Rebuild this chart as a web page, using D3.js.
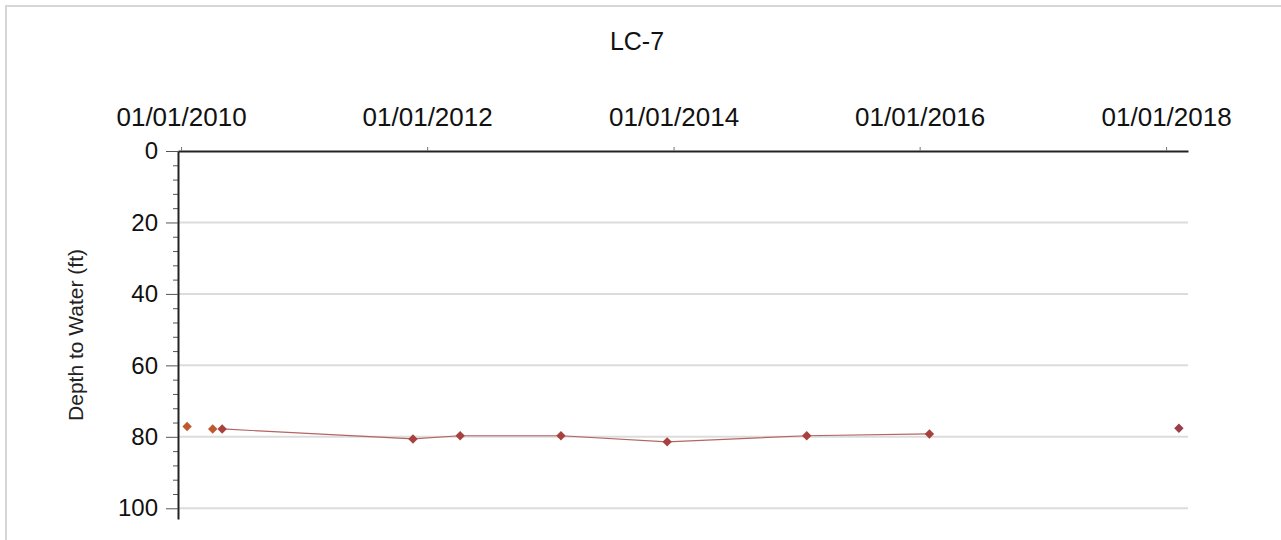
<!DOCTYPE html>
<html>
<head>
<meta charset="utf-8">
<script src="https://cdn.jsdelivr.net/npm/d3@7"></script>
<style>
  body { margin: 0; background: #fff; }
  text { font-family: Arial, "Liberation Sans", sans-serif; }
</style>
</head>
<body>
<div id="chart"></div>
<script>
// Data
let chartTitle = "LC-7"
let yLabel = "Depth to Water (ft)"

// first two readings (orange, not joined)
let earlyDates = ["2010-01-19", "2010-04-05"]
let earlyDepths = [77.1, 77.8]

// joined readings
let mainDates = ["2010-05-03", "2011-11-20", "2012-04-08", "2013-02-01", "2013-12-13", "2015-01-31", "2016-01-30"]
let mainDepths = [77.8, 80.6, 79.7, 79.7, 81.4, 79.7, 79.2]

// last reading, not joined
let lateDates = ["2018-02-08"]
let lateDepths = [77.6]

let xTickDates = ["2010-01-01", "2012-01-01", "2014-01-01", "2016-01-01", "2018-01-01"]
let yTicks = [0, 20, 40, 60, 80, 100]
let yMinorTicks = [4, 8, 12, 16, 24, 28, 32, 36, 44, 48, 52, 56, 64, 68, 72, 76, 84, 88, 92, 96]

let parse = d3.timeParse("%Y-%m-%d")
let fmt = d3.timeFormat("%m/%d/%Y")

function zip(dates, depths) {
  return dates.map((d, i) => ({date: parse(d), depth: depths[i]}))
}
let early = zip(earlyDates, earlyDepths)
let main = zip(mainDates, mainDepths)
let late = zip(lateDates, lateDepths)

let width = 1281
let height = 540

let svg = d3.select("#chart")
  .append("svg")
  .attr("width", width)
  .attr("height", height)

// frame
svg.append("rect")
  .attr("x", 6)
  .attr("y", 6)
  .attr("width", 1400)
  .attr("height", 800)
  .attr("fill", "none")
  .attr("stroke", "#d6d6d6")
  .attr("stroke-width", 2)

let xScale = d3.scaleTime()
  .domain([parse("2009-12-23"), parse("2018-03-07")])
  .range([178, 1188])

let yScale = d3.scaleLinear()
  .domain([0, 103])
  .range([151, 519])

// gridlines
svg.append("g")
  .selectAll("line")
  .data(yTicks.slice(1))
  .enter().append("line")
  .attr("x1", 178)
  .attr("x2", 1188)
  .attr("y1", d => yScale(d))
  .attr("y2", d => yScale(d))
  .attr("stroke", "#dcdcdc")
  .attr("stroke-width", 2)

// minor y ticks
let yMinor = d3.axisLeft(yScale).tickValues(yMinorTicks).tickSize(5).tickFormat("")
svg.append("g")
  .attr("transform", "translate(178,0)")
  .call(yMinor)
  .call(g => g.select(".domain").remove())
  .selectAll("line").attr("stroke", "#555")

// major y axis
let yAxis = d3.axisLeft(yScale).tickValues(yTicks).tickSize(12).tickPadding(8).tickSizeOuter(0)
svg.append("g")
  .attr("transform", "translate(178,0)")
  .call(yAxis)
  .call(g => g.select(".domain").attr("stroke", "#222").attr("stroke-width", 2))
  .call(g => g.selectAll(".tick line").attr("stroke", "#555"))
  .call(g => g.selectAll("text").attr("font-size", "24px").attr("fill", "#111"))

// top x axis
let xAxis = d3.axisTop(xScale)
  .tickValues(xTickDates.map(parse))
  .tickFormat(fmt)
  .tickSize(4)
  .tickPadding(21)
  .tickSizeOuter(0)
svg.append("g")
  .attr("transform", "translate(0,151)")
  .call(xAxis)
  .call(g => g.select(".domain").attr("stroke", "#222").attr("stroke-width", 2))
  .call(g => g.selectAll(".tick line").attr("stroke", "#777"))
  .call(g => g.selectAll("text").attr("font-size", "26px").attr("fill", "#111"))

// title
svg.append("text")
  .attr("x", 637)
  .attr("y", 50)
  .attr("text-anchor", "middle")
  .attr("font-size", "25px")
  .attr("fill", "#111")
  .text(chartTitle)

// y label
svg.append("text")
  .attr("transform", "translate(83,335) rotate(-90)")
  .attr("text-anchor", "middle")
  .attr("font-size", "21px")
  .attr("fill", "#222")
  .text(yLabel)

// line
let line = d3.line()
  .x(d => xScale(d.date))
  .y(d => yScale(d.depth))

svg.append("path")
  .datum(main)
  .attr("d", line)
  .attr("fill", "none")
  .attr("stroke", "#b46464")
  .attr("stroke-width", 1.2)

// diamonds: squares turned 45 degrees
let diamond = d3.symbol().type(d3.symbolSquare).size(44)

function drawPoints(data, color) {
  svg.append("g")
    .selectAll("path")
    .data(data)
    .enter().append("path")
    .attr("d", diamond)
    .attr("transform", d => "translate(" + xScale(d.date) + "," + yScale(d.depth) + ") rotate(45)")
    .attr("fill", color)
}

drawPoints(early, "#c0582e")
drawPoints(main, "#a8403e")
drawPoints(late, "#9c3c4a")
</script>
</body>
</html>
